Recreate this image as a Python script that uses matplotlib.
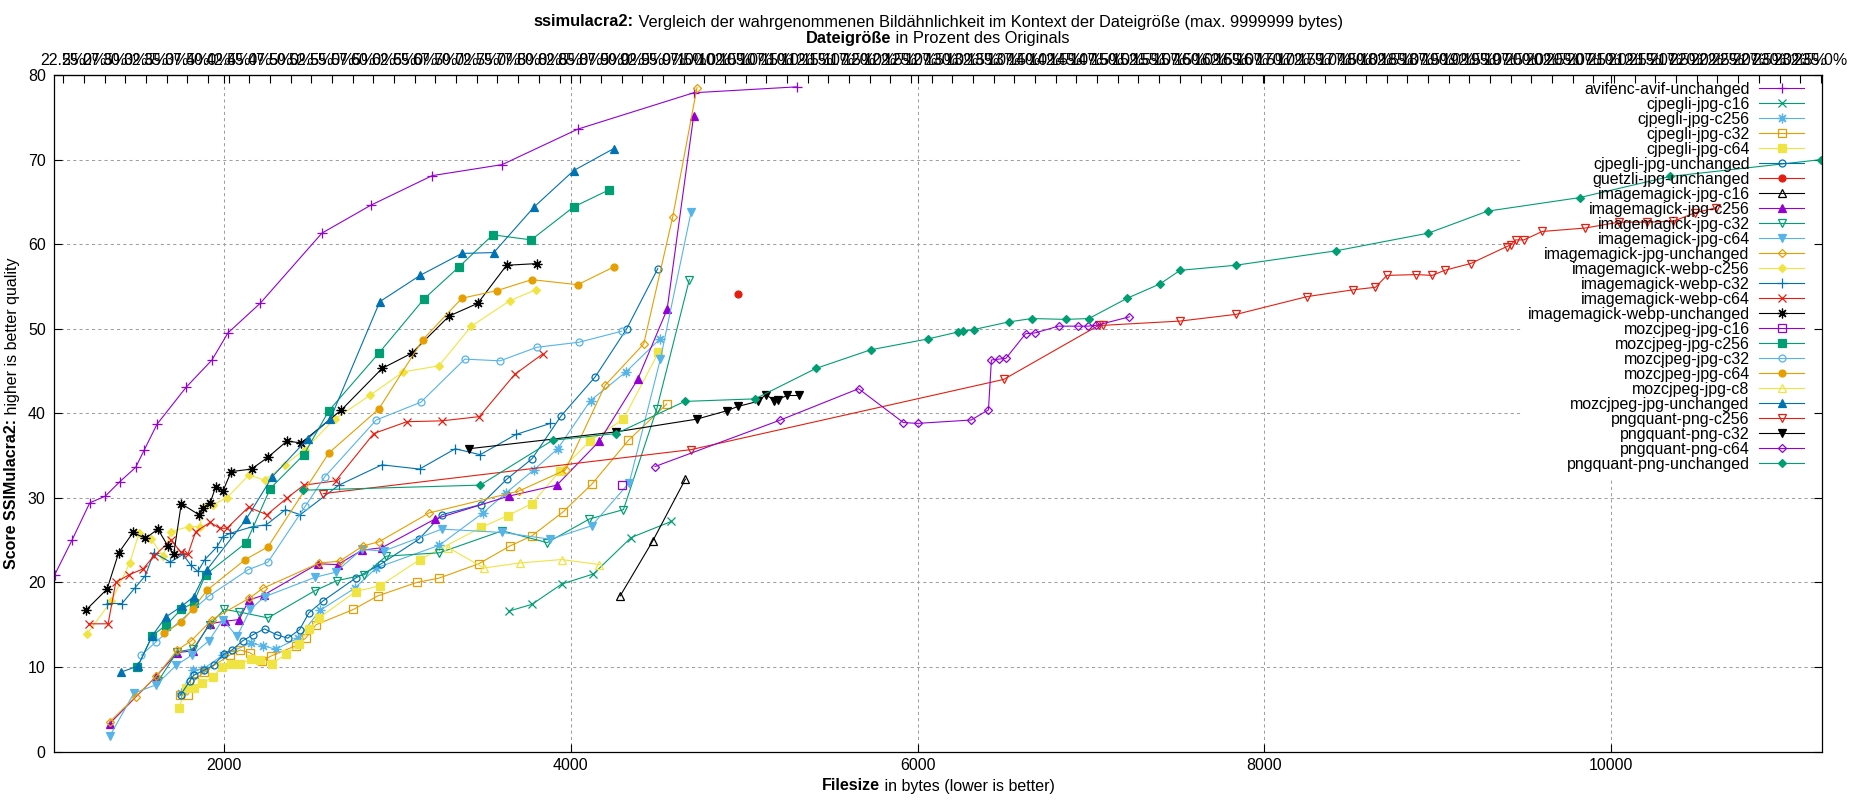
import numpy as np
import matplotlib
matplotlib.use("Agg")
import matplotlib.pyplot as plt
from matplotlib.transforms import IdentityTransform

plt.rcParams['font.family'] = ['Liberation Sans', 'DejaVu Sans']
FS = 11.5
TITLE_FS = 11.8

# data (filesize in bytes, ssimulacra2 score)
avif_x = [1024, 1124, 1226, 1316, 1399, 1491, 1539, 1614, 1783, 1931, 2023, 2209, 2565, 2847, 3201, 3604, 4041, 4709, 5305]
avif_y = [20.9, 25.0, 29.4, 30.2, 31.9, 33.6, 35.6, 38.7, 43.1, 46.3, 49.5, 53.0, 61.3, 64.6, 68.1, 69.4, 73.6, 77.9, 78.6]

cjpegli_c16_x = [3643, 3776, 3948, 4131, 4348, 4579]
cjpegli_c16_y = [16.6, 17.4, 19.8, 21.0, 25.3, 27.2]

cjpegli_c256_x = [1750, 1821, 1883, 1994, 2154, 2225, 2298, 2427, 2555, 2753, 2878, 3243, 3493, 3628, 3787, 3925, 4114, 4319, 4515]
cjpegli_c256_y = [6.9, 9.6, 9.8, 11.4, 12.8, 12.5, 12.1, 13.4, 16.7, 19.3, 21.7, 24.4, 28.2, 30.6, 33.3, 35.8, 41.5, 44.9, 48.8]

cjpegli_c32_x = [1745, 1792, 1825, 1885, 2033, 2094, 2148, 2221, 2273, 2413, 2471, 2532, 2747, 2887, 3113, 3240, 3470, 3649, 3776, 3954, 4121, 4333, 4554]
cjpegli_c32_y = [6.7, 6.7, 8.3, 9.4, 11.4, 12.0, 11.7, 10.7, 11.3, 12.5, 13.4, 15.0, 16.8, 18.4, 20.0, 20.5, 22.2, 24.3, 25.5, 28.3, 31.6, 36.8, 41.1]

cjpegli_c64_x = [1741, 1783, 1825, 1875, 1937, 1987, 2042, 2094, 2158, 2209, 2277, 2359, 2432, 2490, 2548, 2759, 2900, 3130, 3484, 3637, 3776, 3939, 4110, 4304, 4506]
cjpegli_c64_y = [5.2, 7.5, 7.5, 8.1, 8.8, 10.0, 10.4, 10.4, 10.9, 10.8, 10.4, 11.5, 12.7, 14.5, 15.8, 18.9, 19.6, 22.7, 26.5, 27.9, 29.3, 33.2, 36.7, 39.3, 47.2]

cjpegli_unch_x = [1750, 1802, 1825, 1883, 1940, 1998, 2046, 2109, 2167, 2234, 2305, 2368, 2436, 2490, 2571, 2759, 2907, 3124, 3257, 3482, 3631, 3776, 3945, 4141, 4323, 4502]
cjpegli_unch_y = [6.7, 8.3, 9.0, 9.6, 10.2, 11.5, 12.0, 13.1, 13.8, 14.5, 13.8, 13.4, 14.4, 16.4, 17.8, 20.5, 22.2, 25.1, 28.0, 29.2, 32.2, 34.6, 39.7, 44.3, 50.0, 57.1]

guetzli_x = [4963]
guetzli_y = [54.1]

im_jpg_c16_x = [4285, 4473, 4661]
im_jpg_c16_y = [18.4, 24.9, 32.2]

im_jpg_c256_x = [1341, 1610, 1731, 1821, 1917, 2004, 2088, 2144, 2229, 2542, 2657, 2795, 2911, 3218, 3643, 3920, 4165, 4386, 4556, 4709]
im_jpg_c256_y = [3.3, 8.9, 11.7, 11.9, 15.1, 15.4, 15.6, 17.9, 18.5, 22.2, 22.1, 23.8, 24.1, 27.5, 30.2, 31.5, 36.7, 44.0, 52.3, 75.2]

im_jpg_c32_x = [1620, 1731, 1821, 1917, 2002, 2088, 2254, 2523, 2651, 2810, 2936, 3243, 3605, 3864, 4108, 4304, 4496, 4684]
im_jpg_c32_y = [8.3, 11.8, 12.1, 15.0, 16.8, 16.5, 15.8, 19.0, 20.2, 20.9, 23.1, 23.5, 26.1, 24.7, 27.5, 28.6, 40.5, 55.8]

im_jpg_c64_x = [1341, 1481, 1610, 1725, 1815, 1914, 1994, 2075, 2152, 2234, 2526, 2644, 2795, 2921, 3257, 3605, 3883, 4121, 4338, 4517, 4694]
im_jpg_c64_y = [1.8, 6.9, 7.9, 10.2, 11.4, 13.1, 15.6, 13.6, 16.8, 18.3, 20.6, 21.2, 23.9, 23.7, 26.3, 25.9, 25.1, 26.7, 31.8, 46.4, 63.8]

im_jpg_unch_x = [1341, 1491, 1610, 1731, 1812, 1931, 2144, 2225, 2551, 2667, 2801, 2894, 3182, 3701, 3970, 4198, 4421, 4588, 4728]
im_jpg_unch_y = [3.5, 6.5, 8.9, 12.0, 13.1, 15.6, 18.1, 19.3, 22.3, 22.5, 24.3, 24.8, 28.2, 30.8, 33.3, 43.3, 48.2, 63.2, 78.5]

webp_c256_x = [1210, 1351, 1457, 1510, 1581, 1648, 1696, 1798, 1860, 1883, 1937, 2017, 2144, 2234, 2350, 2465, 2638, 2841, 3035, 3239, 3427, 3648, 3798]
webp_c256_y = [13.9, 17.8, 22.3, 25.8, 25.1, 23.1, 26.0, 26.6, 26.6, 28.9, 29.2, 30.0, 32.7, 32.1, 33.9, 35.7, 39.3, 42.1, 44.9, 45.6, 50.3, 53.3, 54.6]

webp_c32_x = [1326, 1412, 1485, 1547, 1595, 1691, 1764, 1810, 1850, 1890, 1960, 1994, 2036, 2167, 2244, 2355, 2440, 2663, 2911, 3128, 3334, 3478, 3685, 3883]
webp_c32_y = [17.5, 17.5, 19.3, 20.8, 23.5, 22.4, 23.3, 22.0, 21.3, 22.7, 24.2, 25.4, 25.8, 26.6, 26.8, 28.6, 28.0, 31.5, 33.9, 33.4, 35.8, 35.1, 37.5, 38.8]

webp_c64_x = [1222, 1332, 1376, 1453, 1534, 1595, 1696, 1750, 1792, 1837, 1921, 1975, 2017, 2142, 2248, 2365, 2461, 2644, 2864, 3055, 3256, 3473, 3677, 3838]
webp_c64_y = [15.1, 15.1, 20.0, 20.9, 21.6, 23.1, 25.0, 23.6, 23.3, 26.0, 27.1, 26.4, 26.4, 28.9, 28.0, 30.0, 31.5, 32.0, 37.6, 39.0, 39.1, 39.6, 44.6, 47.0]

webp_unch_x = [1203, 1326, 1393, 1476, 1547, 1619, 1677, 1710, 1754, 1856, 1879, 1921, 1952, 1994, 2042, 2159, 2254, 2363, 2446, 2678, 2912, 3083, 3299, 3464, 3630, 3808]
webp_unch_y = [16.7, 19.2, 23.5, 25.9, 25.2, 26.3, 24.3, 23.3, 29.3, 28.0, 28.8, 29.4, 31.3, 30.8, 33.1, 33.4, 34.8, 36.7, 36.5, 40.4, 45.3, 47.1, 51.5, 53.0, 57.5, 57.7]

mozc_c16_x = [4294]
mozc_c16_y = [31.5]

mozc_c256_x = [1501, 1587, 1664, 1754, 1825, 1894, 2129, 2267, 2461, 2605, 2893, 3153, 3355, 3551, 3772, 4017, 4219]
mozc_c256_y = [10.0, 13.7, 14.9, 16.8, 17.6, 20.9, 24.7, 31.1, 35.1, 40.3, 47.1, 53.5, 57.3, 61.1, 60.5, 64.4, 66.4]

mozc_c32_x = [1524, 1610, 1914, 2140, 2254, 2469, 2582, 2878, 3135, 3389, 3593, 3804, 4048, 4294]
mozc_c32_y = [11.4, 13.0, 18.4, 21.5, 22.4, 29.0, 32.5, 39.2, 41.3, 46.4, 46.2, 47.8, 48.4, 49.7]

mozc_c64_x = [1654, 1754, 1821, 1904, 2123, 2254, 2605, 2893, 3147, 3372, 3574, 3775, 4040, 4248]
mozc_c64_y = [14.0, 15.3, 16.9, 19.1, 22.7, 24.2, 35.3, 40.5, 48.7, 53.6, 54.5, 55.8, 55.2, 57.3]

mozc_c8_x = [3295, 3499, 3708, 3948, 4165]
mozc_c8_y = [24.1, 21.7, 22.3, 22.7, 22.1]

mozc_unch_x = [1408, 1504, 1587, 1664, 1758, 1825, 1902, 2129, 2279, 2484, 2613, 2899, 3131, 3372, 3556, 3789, 4017, 4248]
mozc_unch_y = [9.4, 10.1, 13.7, 15.9, 17.2, 18.3, 21.5, 27.5, 32.5, 37.0, 39.3, 53.2, 56.3, 58.9, 59.0, 64.4, 68.7, 71.3]

pngq_c256_x = [2574, 4694, 6497, 7045, 7072, 7514, 7839, 8248, 8513, 8641, 8707, 8877, 8968, 9039, 9189, 9397, 9420, 9449, 9497, 9603, 9849, 10045, 10208, 10358, 10483, 10606]
pngq_c256_y = [30.5, 35.7, 44.0, 50.4, 50.4, 50.9, 51.7, 53.8, 54.6, 54.9, 56.3, 56.4, 56.3, 56.9, 57.7, 59.7, 59.9, 60.5, 60.5, 61.5, 61.9, 62.6, 62.6, 62.7, 63.7, 64.3]

pngq_c32_x = [3411, 4262, 4726, 4901, 4963, 5078, 5126, 5174, 5193, 5247, 5318]
pngq_c32_y = [35.8, 37.8, 39.3, 40.3, 40.8, 41.4, 42.2, 41.5, 41.6, 42.1, 42.1]

pngq_c64_x = [4486, 5209, 5660, 5918, 6000, 6309, 6409, 6426, 6468, 6510, 6623, 6678, 6813, 6923, 6983, 7032, 7222]
pngq_c64_y = [33.7, 39.2, 42.9, 38.9, 38.8, 39.2, 40.4, 46.3, 46.4, 46.5, 49.4, 49.5, 50.3, 50.3, 50.3, 50.4, 51.4]

pngq_unch_x = [2455, 3478, 3895, 4262, 4657, 5063, 5414, 5729, 6063, 6232, 6261, 6325, 6526, 6659, 6855, 6988, 7209, 7399, 7514, 7834, 8411, 8946, 9287, 9818, 10339, 11213]
pngq_unch_y = [30.9, 31.5, 36.8, 37.6, 41.4, 41.7, 45.3, 47.5, 48.8, 49.6, 49.7, 49.9, 50.8, 51.2, 51.1, 51.2, 53.6, 55.3, 56.9, 57.5, 59.2, 61.3, 63.9, 65.5, 68.0, 70.0]

series = [
    ("avifenc-avif-unchanged", avif_x, avif_y),
    ("cjpegli-jpg-c16", cjpegli_c16_x, cjpegli_c16_y),
    ("cjpegli-jpg-c256", cjpegli_c256_x, cjpegli_c256_y),
    ("cjpegli-jpg-c32", cjpegli_c32_x, cjpegli_c32_y),
    ("cjpegli-jpg-c64", cjpegli_c64_x, cjpegli_c64_y),
    ("cjpegli-jpg-unchanged", cjpegli_unch_x, cjpegli_unch_y),
    ("guetzli-jpg-unchanged", guetzli_x, guetzli_y),
    ("imagemagick-jpg-c16", im_jpg_c16_x, im_jpg_c16_y),
    ("imagemagick-jpg-c256", im_jpg_c256_x, im_jpg_c256_y),
    ("imagemagick-jpg-c32", im_jpg_c32_x, im_jpg_c32_y),
    ("imagemagick-jpg-c64", im_jpg_c64_x, im_jpg_c64_y),
    ("imagemagick-jpg-unchanged", im_jpg_unch_x, im_jpg_unch_y),
    ("imagemagick-webp-c256", webp_c256_x, webp_c256_y),
    ("imagemagick-webp-c32", webp_c32_x, webp_c32_y),
    ("imagemagick-webp-c64", webp_c64_x, webp_c64_y),
    ("imagemagick-webp-unchanged", webp_unch_x, webp_unch_y),
    ("mozcjpeg-jpg-c16", mozc_c16_x, mozc_c16_y),
    ("mozcjpeg-jpg-c256", mozc_c256_x, mozc_c256_y),
    ("mozcjpeg-jpg-c32", mozc_c32_x, mozc_c32_y),
    ("mozcjpeg-jpg-c64", mozc_c64_x, mozc_c64_y),
    ("mozcjpeg-jpg-c8", mozc_c8_x, mozc_c8_y),
    ("mozcjpeg-jpg-unchanged", mozc_unch_x, mozc_unch_y),
    ("pngquant-png-c256", pngq_c256_x, pngq_c256_y),
    ("pngquant-png-c32", pngq_c32_x, pngq_c32_y),
    ("pngquant-png-c64", pngq_c64_x, pngq_c64_y),
    ("pngquant-png-unchanged", pngq_unch_x, pngq_unch_y),
]

ORIG_SIZE = 4770  # bytes of the original, for the percent axis on top
pct_ticks = np.arange(22.5, 235.01, 2.5)

# gnuplot default linetype colours and point types
colors = ["#9400D3", "#009E73", "#56B4E9", "#E69F00", "#F0E442", "#0072B2", "#E51E10", "#000000"]
points = [("+", True, 7), ("x", True, 6), ((8, 2, 0), True, 7), ("s", False, 5.5), ("s", True, 5.5),
          ("o", False, 5), ("o", True, 5), ("^", False, 6), ("^", True, 6), ("v", False, 6),
          ("v", True, 6), ("D", False, 4.5), ("D", True, 4.5)]

fig = plt.figure(figsize=(18.5, 8), dpi=100)
ax = fig.add_axes([54 / 1850, 1 - 751.5 / 800, (1822 - 54) / 1850, (751.5 - 75) / 800])

for i, (name, xs, ys) in enumerate(series):
    c = colors[i % 8]
    m, filled, ms = points[i % 13]
    ax.plot(xs, ys, color=c, lw=0.8, marker=m, ms=ms, mew=0.9,
            mfc=c if filled else "none", mec=c, label=name, zorder=2 + i * 0.01)

ax.set_xlim(1020, 11216)
ax.set_ylim(0, 80)
ax.set_xticks([2000, 4000, 6000, 8000, 10000])
ax.set_yticks(np.arange(0, 81, 10))
ax.tick_params(axis="both", direction="in", length=6, width=0.8, labelsize=FS)
ax.tick_params(axis="y", right=True, pad=6)
ax.tick_params(axis="x", top=True, pad=5)
for s in ax.spines.values():
    s.set_linewidth(0.9)

sec = ax.secondary_xaxis("top", functions=(lambda b: b * 100.0 / ORIG_SIZE, lambda p: p * ORIG_SIZE / 100.0))
sec.set_xticks(pct_ticks)
sec.set_xticklabels(["%.1f%%" % p for p in pct_ticks])
sec.tick_params(direction="in", length=6, width=0.8, labelsize=FS, pad=5)

leg = ax.legend(loc="upper right", bbox_to_anchor=((1804 + 8) / 1850, 1 - 74 / 800),
                bbox_transform=fig.transFigure, frameon=False, markerfirst=False,
                fontsize=FS, handlelength=2.8, handletextpad=0.6, labelspacing=0.0,
                borderpad=0.5, borderaxespad=0, numpoints=1)

fig.canvas.draw()
r = fig.canvas.get_renderer()

# grid lines stop at the key box, like gnuplot
kb = leg.get_window_extent(r).transformed(ax.transData.inverted())
gkw = dict(color="#a0a0a0", lw=0.75, linestyle=(0, (3, 3)), zorder=1)
x0, x1 = ax.get_xlim()
for yv in range(10, 80, 10):
    xe = kb.x0 if kb.y0 <= yv <= kb.y1 else x1
    ax.plot([x0, xe], [yv, yv], **gkw)
for xv in [2000, 4000, 6000, 8000, 10000]:
    ye = kb.y0 if xv >= kb.x0 else 80
    ax.plot([xv, xv], [0, ye], **gkw)
ax.set_xlim(x0, x1)
ax.set_ylim(0, 80)


def rich_text(parts, cx, cy, rot=0, size=FS):
    # pieces of text with mixed weight, centred at pixel position (cx, cy from top)
    objs = [fig.text(0, 0, s, fontsize=size, fontweight="bold" if b else "normal", rotation=rot,
                     rotation_mode="anchor", ha="left", va="center", transform=IdentityTransform())
            for s, b in parts]
    sizes = []
    for o in objs:
        bb = o.get_window_extent(r)
        sizes.append(bb.height if rot else bb.width)
    start = -sum(sizes) / 2
    for o, w in zip(objs, sizes):
        if rot:
            o.set_position((cx, 800 - cy + start))
        else:
            o.set_position((cx + start, 800 - cy))
        start += w


rich_text([("ssimulacra2:", True),
           (" Vergleich der wahrgenommenen Bildähnlichkeit im Kontext der Dateigröße (max. 9999999 bytes)", False)],
          938, 22, size=TITLE_FS)
rich_text([("Dateigröße", True), (" in Prozent des Originals", False)], 938, 38, size=TITLE_FS)
rich_text([("Filesize", True), (" in bytes (lower is better)", False)], 938, 786)
rich_text([("Score SSIMulacra2:", True), (" higher is better quality", False)], 12, 413, rot=90)

fig.savefig("out.png", dpi=100)
